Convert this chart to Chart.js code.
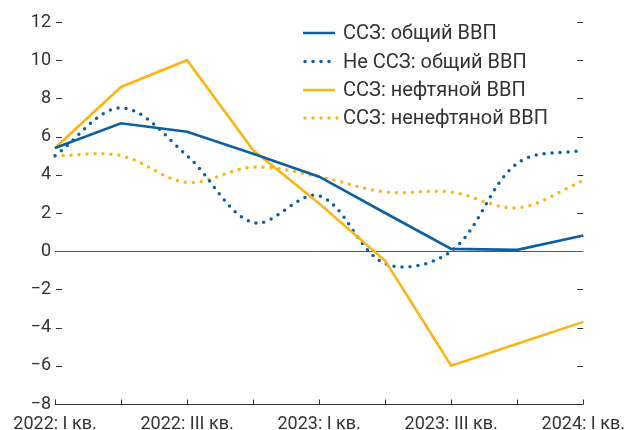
<!DOCTYPE html>
<html>
<head>
<meta charset="utf-8">
<script src="https://cdn.jsdelivr.net/npm/chart.js@4"></script>
<style>
html,body{margin:0;padding:0;background:#fff;}
#wrap{width:627px;height:430px;position:relative;}
</style>
</head>
<body>
<div id="wrap"><canvas id="c" width="627" height="430"></canvas></div>
<script>
const categories = ["2022: I кв.", "2022: II кв.", "2022: III кв.", "2022: IV кв.",
  "2023: I кв.", "2023: II кв.", "2023: III кв.", "2023: IV кв.", "2024: I кв."];
const shownLabels = [true, false, true, false, true, false, true, false, true];
const seriesNames = ["ССЗ: общий ВВП", "Не ССЗ: общий ВВП", "ССЗ: нефтяной ВВП", "ССЗ: ненефтяной ВВП"];
const sszTotal    = [5.4, 6.7, 6.25, 5.1, 3.9, 2.0, 0.12, 0.07, 0.82];
const nonSszTotal = [5.0, 7.5, 5.0, 1.5, 2.9, -0.65, 0.0, 4.6, 5.3];
const sszOil      = [5.4, 8.6, 10.0, 5.3, 2.5, -0.5, -6.0, -4.85, -3.7];
const sszNonOil   = [5.0, 5.0, 3.6, 4.4, 3.9, 3.1, 3.1, 2.27, 3.7];
const yTicks = [-8, -6, -4, -2, 0, 2, 4, 6, 8, 10, 12];

const BLUE = '#0b5fa5';
const YELLOW = '#fdb515';
const TEXT = '#333333';
const FONT = 'Roboto';

const decor = {
  id: 'decor',
  beforeDatasetsDraw(chart) {
    const {ctx, chartArea: a, scales: {x, y}} = chart;
    ctx.save();
    ctx.strokeStyle = '#555';
    ctx.lineWidth = 1;
    const y0 = Math.round(y.getPixelForValue(0)) + 0.5;
    ctx.beginPath(); ctx.moveTo(a.left, y0); ctx.lineTo(a.right, y0); ctx.stroke();
    ctx.strokeStyle = '#333';
    const yb = Math.round(y.getPixelForValue(-8)) + 0.5;
    ctx.beginPath(); ctx.moveTo(a.left, yb); ctx.lineTo(a.right, yb); ctx.stroke();
    categories.forEach((c, i) => {
      const px = Math.round(x.getPixelForValue(i)) + 0.5;
      ctx.beginPath(); ctx.moveTo(px, yb); ctx.lineTo(px, yb - 5); ctx.stroke();
    });
    yTicks.forEach(v => {
      if (v === -8 || v === 0) return;
      const py = Math.round(y.getPixelForValue(v)) + 0.5;
      ctx.beginPath(); ctx.moveTo(a.left + 1, py); ctx.lineTo(a.left + 7, py); ctx.stroke();
      ctx.beginPath(); ctx.moveTo(a.right - 6, py); ctx.lineTo(a.right, py); ctx.stroke();
    });
    ctx.restore();
  }
};

const legendPlugin = {
  id: 'customLegend',
  afterDraw(chart) {
    const ctx = chart.ctx;
    const items = [
      {name: seriesNames[0], color: BLUE, dotted: false, x1: 335},
      {name: seriesNames[1], color: BLUE, dotted: true, x1: 330},
      {name: seriesNames[2], color: YELLOW, dotted: false, x1: 335},
      {name: seriesNames[3], color: YELLOW, dotted: true, x1: 338}
    ];
    const rows = [33, 61.5, 90, 118];
    ctx.save();
    items.forEach((it, i) => {
      const yy = rows[i];
      ctx.strokeStyle = it.color;
      ctx.beginPath();
      if (it.dotted) {
        ctx.lineWidth = 3.5; ctx.lineCap = 'round'; ctx.setLineDash([0, 8]);
        ctx.moveTo(305, yy); ctx.lineTo(it.x1, yy);
      } else {
        ctx.lineWidth = 2.5; ctx.lineCap = 'butt'; ctx.setLineDash([]);
        ctx.moveTo(303, yy); ctx.lineTo(it.x1, yy);
      }
      ctx.stroke();
      ctx.setLineDash([]);
      ctx.fillStyle = TEXT;
      ctx.font = '20px ' + FONT;
      ctx.textBaseline = 'middle';
      ctx.textAlign = 'left';
      ctx.fillText(it.name, 343, yy + 1);
    });
    ctx.restore();
  }
};

const solid = (data, color) => ({
  data, borderColor: color, backgroundColor: color, borderWidth: 2.6,
  pointRadius: 0, tension: 0, fill: false
});
const dotted = (data, color) => ({
  data, borderColor: color, backgroundColor: color, borderWidth: 3.5,
  borderDash: [0, 8], borderCapStyle: 'round',
  pointRadius: 0, tension: 0.35, fill: false
});

new Chart(document.getElementById('c'), {
  type: 'line',
  data: {
    labels: categories,
    datasets: [
      Object.assign(dotted(sszNonOil, YELLOW), {label: seriesNames[3], order: 4}),
      Object.assign(dotted(nonSszTotal, BLUE), {label: seriesNames[1], order: 3}),
      Object.assign(solid(sszOil, YELLOW), {label: seriesNames[2], order: 2}),
      Object.assign(solid(sszTotal, BLUE), {label: seriesNames[0], order: 1})
    ]
  },
  options: {
    responsive: false,
    animation: false,
    devicePixelRatio: 1,
    layout: {padding: {top: 22, right: 42, left: 0, bottom: 0}},
    plugins: {legend: {display: false}, tooltip: {enabled: false}},
    scales: {
      x: {
        offset: false,
        grid: {display: false},
        border: {display: false},
        afterFit(s) { s.height = 26; },
        ticks: {
          autoSkip: false, maxRotation: 0, minRotation: 0, padding: 2,
          color: TEXT, font: {family: FONT, size: 18},
          callback(v, i) { return shownLabels[i] ? categories[i] : ''; }
        }
      },
      y: {
        min: -8, max: 12,
        grid: {display: false, drawTicks: false},
        border: {display: false},
        afterFit(s) { s.width = 55; },
        afterBuildTicks(s) { s.ticks = yTicks.map(v => ({value: v})); },
        ticks: {
          padding: 4, color: TEXT, font: {family: FONT, size: 18},
          callback(v) { return v < 0 ? '\u2212' + Math.abs(v) : String(v); }
        }
      }
    }
  },
  plugins: [decor, legendPlugin]
});
</script>
</body>
</html>
